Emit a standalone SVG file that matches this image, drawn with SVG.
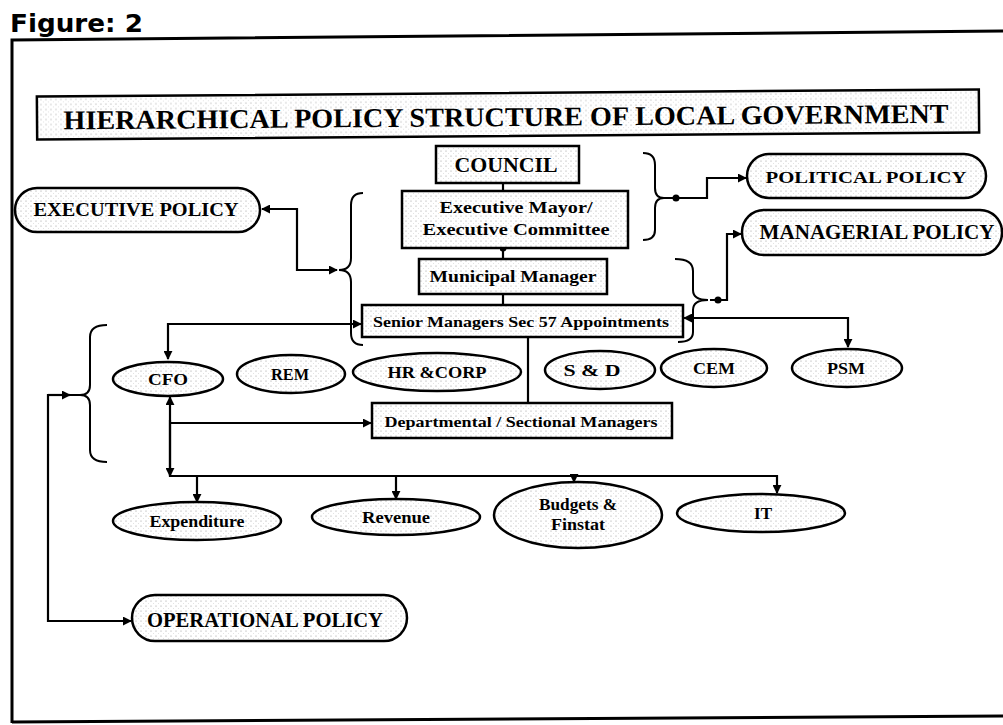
<svg xmlns="http://www.w3.org/2000/svg" width="1003" height="725" viewBox="0 0 1003 725">
<defs>
<pattern id="stip" width="5" height="5" patternUnits="userSpaceOnUse">
<rect width="5" height="5" fill="#ffffff"/>
<circle cx="1" cy="1" r="0.6" fill="#9a9a9a"/>
<circle cx="3.5" cy="3.5" r="0.4" fill="#c0c0c0"/>
</pattern>
<marker id="ah" viewBox="0 0 10 10" refX="9" refY="5" markerWidth="9" markerHeight="9" markerUnits="userSpaceOnUse" orient="auto-start-reverse">
<path d="M0,0 L10,5 L0,10 z" fill="#000"/>
</marker>
<marker id="dot" viewBox="0 0 10 10" refX="5" refY="5" markerWidth="7" markerHeight="7" markerUnits="userSpaceOnUse">
<circle cx="5" cy="5" r="5" fill="#000"/>
</marker>
</defs>
<style>
.box{fill:url(#stip);stroke:#000;stroke-width:2.5}
.ell{fill:url(#stip);stroke:#000;stroke-width:2.5}
.t{font-family:"Liberation Serif","Times New Roman",serif;font-weight:bold;fill:#000;text-anchor:middle}
.c{fill:none;stroke:#000;stroke-width:2.2}
.br{fill:none;stroke:#000;stroke-width:2}
.fr{fill:none;stroke:#000;stroke-width:3}
</style>
<rect width="1003" height="725" fill="#fff"/>
<text x="10" y="32" font-family="'DejaVu Sans',Verdana,sans-serif" font-weight="bold" font-size="25" textLength="133" lengthAdjust="spacingAndGlyphs">Figure: 2</text>
<g id="frame">
<path class="fr" d="M12,723 L12,40 L1003,31"/>
<path class="fr" d="M12,722 L1003,716"/>
</g>
<g id="title" transform="rotate(-0.43 508 115)">
<rect class="box" x="37" y="93" width="942" height="43" stroke-width="3"/>
<text class="t" x="506" y="126" font-size="27" textLength="885" lengthAdjust="spacingAndGlyphs">HIERARCHICAL POLICY STRUCTURE OF LOCAL GOVERNMENT</text>
</g>
<g id="connectors">
<line class="c" x1="503" y1="183" x2="503" y2="191"/>
<line class="c" x1="503" y1="248" x2="503" y2="259" marker-start="url(#dot)"/>
<line class="c" x1="503" y1="294" x2="503" y2="306"/>
<line class="c" x1="528" y1="337" x2="528" y2="403"/>
<path class="c" d="M337,270 L297,270 L297,209 L262,209" marker-start="url(#ah)" marker-end="url(#ah)"/>
<path class="c" d="M361,324 L168,324 L168,359" marker-start="url(#ah)" marker-end="url(#ah)"/>
<path class="c" d="M662,198 L707,198 L707,178 L746,178" marker-end="url(#ah)"/>
<circle cx="676" cy="198" r="3.5" fill="#000"/>
<path class="c" d="M710,300 L727,300 L727,234 L741,234" marker-end="url(#ah)"/>
<circle cx="718" cy="300" r="3.5" fill="#000"/>
<path class="c" d="M684,318 L848,318 L848,347" marker-start="url(#ah)" marker-end="url(#ah)"/>
<path class="c" d="M170,423 L170,397" marker-end="url(#ah)"/>
<path class="c" d="M170,423 L371,423" marker-end="url(#ah)"/>
<path class="c" d="M170,423 L170,476 L777,476 L777,493" marker-end="url(#ah)"/>
<path class="c" d="M170,420 L170,476" marker-end="url(#ah)"/>
<path class="c" d="M197,476 L197,502" marker-end="url(#ah)"/>
<path class="c" d="M396,476 L396,499" marker-end="url(#ah)"/>
<path class="c" d="M574,474 L574,482" marker-end="url(#ah)"/>
<path class="c" d="M83,395 L48,395 L48,621 L131,621" marker-end="url(#ah)"/>
<path class="c" d="M48,395 L70,395" marker-end="url(#ah)"/>
<path class="br" d="M363,193 Q351,193 351,205 L351,258 Q351,270 339,270 Q351,270 351,282 L351,333 Q351,345 363,345"/>
<path class="br" d="M107,325 Q90,325 90,337 L90,385 Q90,395 80,395 Q90,395 90,405 L90,450 Q90,462 107,462"/>
<path class="br" d="M643,153 Q655,153 655,165 L655,188 Q655,198 664,198 Q655,198 655,208 L655,230 Q655,240 643,240"/>
<path class="br" d="M675,259 Q693,259 693,271 L693,290 Q693,300 708,300 Q693,300 693,310 L693,332 Q693,342 678,342"/>
</g>
<g id="n-council">
<rect class="box" x="436" y="146" width="143" height="37"/>
<text class="t" x="506" y="172" font-size="20" textLength="103" lengthAdjust="spacingAndGlyphs">COUNCIL</text>
</g>
<g id="n-mayor">
<rect class="box" x="402" y="191" width="226" height="57"/>
<text class="t" x="516" y="213" font-size="16" textLength="153" lengthAdjust="spacingAndGlyphs">Executive Mayor/</text>
<text class="t" x="516" y="235" font-size="16" textLength="187" lengthAdjust="spacingAndGlyphs">Executive Committee</text>
</g>
<g id="n-municipal">
<rect class="box" x="419" y="259" width="188" height="35"/>
<text class="t" x="513" y="282" font-size="17" textLength="167" lengthAdjust="spacingAndGlyphs">Municipal Manager</text>
</g>
<g id="n-senior">
<rect class="box" x="362" y="305" width="321" height="32"/>
<text class="t" x="521" y="327" font-size="15" textLength="296" lengthAdjust="spacingAndGlyphs">Senior Managers Sec 57 Appointments</text>
</g>
<g id="n-departmental">
<rect class="box" x="372" y="403" width="300" height="35"/>
<text class="t" x="521" y="427" font-size="15" textLength="273" lengthAdjust="spacingAndGlyphs">Departmental / Sectional Managers</text>
</g>
<g id="n-executive-policy">
<rect class="box" x="15" y="188" width="245" height="44" rx="22"/>
<text class="t" x="136" y="216" font-size="18" textLength="205" lengthAdjust="spacingAndGlyphs">EXECUTIVE POLICY</text>
</g>
<g id="n-political-policy">
<rect class="box" x="747" y="154" width="239" height="44" rx="22"/>
<text class="t" x="866" y="183" font-size="17" textLength="201" lengthAdjust="spacingAndGlyphs">POLITICAL POLICY</text>
</g>
<g id="n-managerial-policy">
<rect class="box" x="742" y="210" width="260" height="45" rx="22"/>
<text class="t" x="877" y="239" font-size="20" textLength="235" lengthAdjust="spacingAndGlyphs">MANAGERIAL POLICY</text>
</g>
<g id="n-operational-policy">
<rect class="box" x="132" y="595" width="275" height="46" rx="23"/>
<text class="t" x="265" y="627" font-size="20" textLength="236" lengthAdjust="spacingAndGlyphs">OPERATIONAL POLICY</text>
</g>
<g id="n-cfo">
<ellipse class="ell" cx="168" cy="379" rx="55" ry="17"/>
<text class="t" x="168" y="385" font-size="16" textLength="40" lengthAdjust="spacingAndGlyphs">CFO</text>
</g>
<g id="n-rem">
<ellipse class="ell" cx="291" cy="374" rx="54" ry="19"/>
<text class="t" x="290" y="380" font-size="16" textLength="38" lengthAdjust="spacingAndGlyphs">REM</text>
</g>
<g id="n-hrcorp">
<ellipse class="ell" cx="437" cy="372" rx="84" ry="19"/>
<text class="t" x="437" y="378" font-size="16" textLength="99" lengthAdjust="spacingAndGlyphs">HR &amp;CORP</text>
</g>
<g id="n-sd">
<ellipse class="ell" cx="600" cy="370" rx="55" ry="19"/>
<text class="t" x="592" y="376" font-size="16" textLength="57" lengthAdjust="spacingAndGlyphs">S &amp; D</text>
</g>
<g id="n-cem">
<ellipse class="ell" cx="714" cy="368" rx="53" ry="19"/>
<text class="t" x="714" y="374" font-size="16" textLength="42" lengthAdjust="spacingAndGlyphs">CEM</text>
</g>
<g id="n-psm">
<ellipse class="ell" cx="847" cy="368" rx="55" ry="19"/>
<text class="t" x="846" y="374" font-size="16" textLength="38" lengthAdjust="spacingAndGlyphs">PSM</text>
</g>
<g id="n-expenditure">
<ellipse class="ell" cx="197" cy="521" rx="84" ry="19"/>
<text class="t" x="197" y="527" font-size="16" textLength="95" lengthAdjust="spacingAndGlyphs">Expenditure</text>
</g>
<g id="n-revenue">
<ellipse class="ell" cx="396" cy="517" rx="84" ry="18"/>
<text class="t" x="396" y="523" font-size="16" textLength="68" lengthAdjust="spacingAndGlyphs">Revenue</text>
</g>
<g id="n-budgets">
<ellipse class="ell" cx="578" cy="515" rx="84" ry="33"/>
<text class="t" x="578" y="510" font-size="16" textLength="78" lengthAdjust="spacingAndGlyphs">Budgets &amp;</text>
<text class="t" x="578" y="530" font-size="16" textLength="54" lengthAdjust="spacingAndGlyphs">Finstat</text>
</g>
<g id="n-it">
<ellipse class="ell" cx="761" cy="513" rx="84" ry="19"/>
<text class="t" x="763" y="519" font-size="16" textLength="18" lengthAdjust="spacingAndGlyphs">IT</text>
</g>
</svg>
